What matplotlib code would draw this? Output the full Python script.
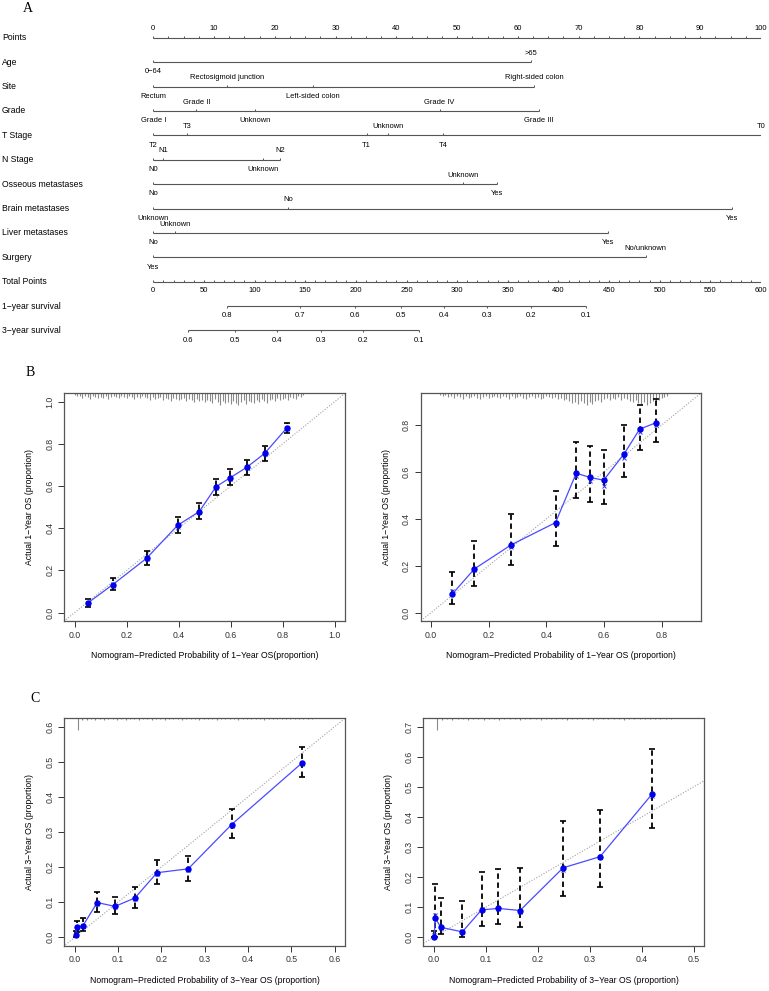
import matplotlib
matplotlib.use('Agg')
import matplotlib.pyplot as plt

plt.rcParams['font.family'] = ['Liberation Sans', 'DejaVu Sans']

W, H = 769, 991

# ---- panel A: nomogram (points scale 0-100) ----
row_names = ['Points', 'Age', 'Site', 'Grade', 'T Stage', 'N Stage',
             'Osseous metastases', 'Brain metastases', 'Liver metastases',
             'Surgery', 'Total Points', '1\u2212year survival', '3\u2212year survival']

age_levels = ['0\u221264', '>65']
age_pts = [0, 62.2]
age_pos = ['b', 'a']
site_levels = ['Rectum', 'Rectosigmoid junction', 'Left-sided colon', 'Right-sided colon']
site_pts = [0, 12.2, 26.3, 62.7]
site_pos = ['b', 'a', 'b', 'a']
grade_levels = ['Grade I', 'Grade II', 'Unknown', 'Grade IV', 'Grade III']
grade_pts = [0, 7.1, 16.8, 47.1, 63.5]
grade_pos = ['b', 'a', 'b', 'a', 'b']
t_levels = ['T2', 'T3', 'T1', 'Unknown', 'T4', 'T0']
t_pts = [0, 5.5, 35.1, 38.7, 47.7, 100]
t_pos = ['b', 'a', 'b', 'a', 'b', 'a']
n_levels = ['N0', 'N1', 'Unknown', 'N2']
n_pts = [0, 1.6, 18.1, 20.8]
n_pos = ['b', 'a', 'b', 'a']
bone_levels = ['No', 'Unknown', 'Yes']
bone_pts = [0, 51.0, 56.6]
bone_pos = ['b', 'a', 'b']
brain_levels = ['Unknown', 'No', 'Yes']
brain_pts = [0, 22.2, 95.3]
brain_pos = ['b', 'a', 'b']
liver_levels = ['No', 'Unknown', 'Yes']
liver_pts = [0, 3.5, 74.9]
liver_pos = ['b', 'a', 'b']
surg_levels = ['Yes', 'No/unknown']
surg_pts = [0, 81.0]
surg_pos = ['b', 'a']

surv1_prob = ['0.8', '0.7', '0.6', '0.5', '0.4', '0.3', '0.2', '0.1']
surv1_total = [73, 145, 199, 245, 287, 329, 373, 427]
surv3_prob = ['0.6', '0.5', '0.4', '0.3', '0.2', '0.1']
surv3_total = [34, 81, 122, 166, 207, 262]

# ---- panels B / C: calibration ----
b1_pred = [0.051, 0.147, 0.277, 0.396, 0.479, 0.544, 0.599, 0.662, 0.731, 0.817]
b1_obs = [0.046, 0.133, 0.258, 0.414, 0.479, 0.597, 0.640, 0.689, 0.755, 0.877]
b1_lo = [0.028, 0.106, 0.226, 0.376, 0.442, 0.558, 0.605, 0.652, 0.720, 0.853]
b1_hi = [0.063, 0.163, 0.294, 0.455, 0.521, 0.634, 0.679, 0.724, 0.790, 0.900]
b1_corr = [0.044, 0.128, 0.255, 0.408, 0.475, 0.590, 0.634, 0.684, 0.750, 0.870]
b1_rug = [2, 3, 3, 5, 3, 4, 6, 3, 4, 5,
          4, 5, 3, 6, 4, 3, 4, 5, 3, 4,
          5, 3, 4, 6, 4, 5, 3, 4, 5, 7,
          4, 6, 5, 4, 7, 5, 6, 8, 5, 6,
          7, 6, 5, 8, 6, 7, 9, 6, 8, 7,
          9, 7, 8, 10, 6, 9, 12, 8, 10, 9,
          11, 8, 10, 12, 9, 7, 11, 8, 9, 10,
          7, 9, 6, 8, 10, 7, 6, 8, 5, 7,
          6, 5, 7, 4, 5, 6, 3, 4, 2]

b2_pred = [0.073, 0.150, 0.278, 0.432, 0.504, 0.551, 0.599, 0.671, 0.724, 0.782]
b2_obs = [0.078, 0.186, 0.289, 0.384, 0.595, 0.577, 0.565, 0.679, 0.783, 0.811]
b2_lo = [0.036, 0.114, 0.204, 0.285, 0.488, 0.470, 0.463, 0.578, 0.692, 0.726]
b2_hi = [0.175, 0.307, 0.421, 0.517, 0.726, 0.712, 0.692, 0.800, 0.887, 0.911]
b2_corr = [0.090, 0.180, 0.282, 0.380, 0.585, 0.562, 0.540, 0.659, 0.769, 0.800]
b2_rug = [2, 3, 2, 4, 3, 5, 3, 4, 6, 3,
          5, 4, 3, 5, 6, 4, 3, 5, 4, 3,
          4, 5, 3, 4, 6, 3, 5, 4, 3, 5,
          6, 4, 3, 5, 4, 6, 5, 3, 4, 5,
          4, 6, 5, 7, 6, 8, 10, 9, 11, 8,
          10, 12, 9, 11, 8, 7, 9, 6, 5, 7,
          5, 6, 4, 7, 5, 6, 8, 9, 7, 10,
          11, 9, 12, 10, 8, 9, 7, 5, 4, 3]

c1_pred = [0.002, 0.005, 0.019, 0.052, 0.093, 0.139, 0.190, 0.262, 0.362, 0.524]
c1_obs = [0.007, 0.028, 0.033, 0.099, 0.088, 0.112, 0.184, 0.195, 0.321, 0.496]
c1_lo = [0.000, 0.016, 0.019, 0.073, 0.066, 0.084, 0.152, 0.161, 0.282, 0.456]
c1_hi = [0.019, 0.047, 0.054, 0.128, 0.116, 0.144, 0.220, 0.232, 0.365, 0.541]
c1_corr = [0.006, 0.026, 0.031, 0.096, 0.086, 0.110, 0.181, 0.193, 0.318, 0.493]
c1_rug = [12, 2, 2, 1, 2, 1, 2, 1, 1, 2,
          1, 2, 1, 1, 2, 1, 1, 2, 1, 1,
          2, 1, 1, 1, 2, 1, 1, 1, 2, 1,
          1, 1, 2, 1, 1, 1, 1, 2, 1, 1,
          1, 1, 1, 2, 1, 1, 1, 1, 1, 1,
          1, 1, 1, 1, 1]

c2_pred = [0.001, 0.003, 0.014, 0.055, 0.092, 0.124, 0.166, 0.249, 0.320, 0.420]
c2_obs = [0.001, 0.063, 0.033, 0.018, 0.091, 0.096, 0.089, 0.231, 0.268, 0.476]
c2_lo = [0.000, 0.000, 0.010, 0.002, 0.038, 0.043, 0.035, 0.138, 0.168, 0.362]
c2_hi = [0.020, 0.177, 0.130, 0.121, 0.218, 0.227, 0.231, 0.387, 0.423, 0.625]
c2_corr = [0.008, 0.073, 0.030, 0.020, 0.094, 0.095, 0.085, 0.225, 0.268, 0.470]
c2_rug = [12, 2, 1, 2, 1, 1, 2, 1, 1, 2,
          1, 1, 2, 1, 1, 1, 2, 1, 1, 1,
          2, 1, 1, 1, 1, 2, 1, 1, 1, 1,
          2, 1, 1, 1, 1, 1, 2, 1, 1, 1,
          1, 1, 1, 1, 1, 1]


def rect(l, t, r, b):
    return [l / W, 1 - b / H, (r - l) / W, (b - t) / H]


fig = plt.figure(figsize=(W / 100, H / 100), dpi=100)
line_col = '#555555'

# ---------------- nomogram ----------------
ax = fig.add_axes(rect(153.3, 13.3, 761, 354.9))
ax.set_xlim(0, 100)
ax.set_ylim(13, -1)
ax.axis('off')

for k, name in enumerate(row_names):
    ax.text(-24.9, k, name, ha='left', va='center', fontsize=6.2, clip_on=False)

# points scale
ax.hlines(0, 0, 100, color=line_col, lw=0.8)
for v in range(0, 101, 10):
    ax.vlines(v, 0, -0.09, color=line_col, lw=0.8)
    ax.text(v, -0.36, str(v), ha='center', va='center', fontsize=5.5)
for v in [x * 2.5 for x in range(41)]:
    if v % 10 != 0:
        ax.vlines(v, 0, -0.06, color=line_col, lw=0.7)

variables = [
    (age_levels, age_pts, age_pos),
    (site_levels, site_pts, site_pos),
    (grade_levels, grade_pts, grade_pos),
    (t_levels, t_pts, t_pos),
    (n_levels, n_pts, n_pos),
    (bone_levels, bone_pts, bone_pos),
    (brain_levels, brain_pts, brain_pos),
    (liver_levels, liver_pts, liver_pos),
    (surg_levels, surg_pts, surg_pos),
]
for k, (levels, pts, pos) in enumerate(variables, start=1):
    ax.hlines(k, min(pts), max(pts), color=line_col, lw=0.8)
    for lab, p, where in zip(levels, pts, pos):
        ax.vlines(p, k, k - 0.08, color=line_col, lw=0.7)
        dy = -0.36 if where == 'a' else 0.40
        ax.text(p, k + dy, lab, ha='center', va='center', fontsize=5.4)

# total points scale (0-600 -> 0-100)
tp = 10
ax.hlines(tp, 0, 100, color=line_col, lw=0.8)
for v in range(0, 601, 10):
    x = v * 100 / 600
    if v % 50 == 0:
        ax.vlines(x, tp, tp - 0.09, color=line_col, lw=0.8)
        ax.text(x, tp + 0.37, str(v), ha='center', va='center', fontsize=5.5)
    else:
        ax.vlines(x, tp, tp - 0.06, color=line_col, lw=0.7)

for k, probs, totals in [(11, surv1_prob, surv1_total), (12, surv3_prob, surv3_total)]:
    xs = [t * 100 / 600 for t in totals]
    ax.hlines(k, min(xs), max(xs), color=line_col, lw=0.8)
    for lab, x in zip(probs, xs):
        ax.vlines(x, k, k + 0.08, color=line_col, lw=0.7)
        ax.text(x, k + 0.40, lab, ha='center', va='center', fontsize=5.5)


# ---------------- calibration panels ----------------
def calib(box, xlim, ylim, xt, yt, pred, obs, lo, hi, corr, rug, rug_x0, xlabel, ylabel):
    a = fig.add_axes(rect(*box))
    xpad = 0.04 * xlim
    ypad = 0.04 * ylim
    a.set_xlim(-xpad, xlim + xpad)
    a.set_ylim(-ypad, ylim + ypad)
    a.plot([-1, 2], [-1, 2], linestyle=(0, (1, 1.5)), color='#a0a0a0', lw=0.8)
    # spike histogram of predictions along the top
    top = ylim + ypad
    px = (ylim + 2 * ypad) / (box[3] - box[1])
    rx = [rug_x0 + 0.01 * i for i in range(len(rug))]
    a.vlines(rx, [top - h * px for h in rug], top, color='#8a8a8a', lw=0.8)
    # error bars
    a.vlines(pred, lo, hi, colors='k', linestyles=(0, (3, 2)), lw=1.3)
    a.plot(pred, hi, linestyle='none', marker='_', color='k', ms=4, mew=1.2)
    a.plot(pred, lo, linestyle='none', marker='_', color='k', ms=4, mew=1.2)
    a.plot(pred, obs, '-', color='#4a4aff', lw=0.9)
    a.plot(pred, corr, linestyle='none', marker='x', color='#3030ff', ms=3, mew=0.7)
    a.plot(pred, obs, linestyle='none', marker='o', color='#0000ee', ms=3.6)
    a.set_xticks(xt)
    a.set_yticks(yt)
    a.set_xticklabels(['%.1f' % t for t in xt])
    a.set_yticklabels(['%.1f' % t for t in yt], rotation=90, va='center')
    a.tick_params(direction='out', length=4, width=0.7, labelsize=6.3, colors='#333333', pad=3)
    for s in a.spines.values():
        s.set_color('#555555')
        s.set_linewidth(0.9)
    a.set_xlabel(xlabel, fontsize=6.2, labelpad=8)
    a.set_ylabel(ylabel, fontsize=6.2, labelpad=8)
    return a


t10 = [0.0, 0.2, 0.4, 0.6, 0.8, 1.0]
t08 = [0.0, 0.2, 0.4, 0.6, 0.8]
t06 = [0.0, 0.1, 0.2, 0.3, 0.4, 0.5, 0.6]
t07 = [0.0, 0.1, 0.2, 0.3, 0.4, 0.5, 0.6, 0.7]
t05 = [0.0, 0.1, 0.2, 0.3, 0.4, 0.5]

calib((64.3, 393.3, 345, 621), 1.0, 1.0, t10, t10,
      b1_pred, b1_obs, b1_lo, b1_hi, b1_corr, b1_rug, 0.0,
      'Nomogram\u2212Predicted Probability of 1\u2212Year OS(proportion)',
      'Actual 1\u2212Year OS (proportion)')
calib((420.7, 393.3, 700.7, 621), 0.9, 0.9, t08, t08,
      b2_pred, b2_obs, b2_lo, b2_hi, b2_corr, b2_rug, 0.03,
      'Nomogram\u2212Predicted Probability of 1\u2212Year OS (proportion)',
      'Actual 1\u2212Year OS (proportion)')
calib((64.3, 718.3, 345, 945.7), 0.6, 0.6, t06, t06,
      c1_pred, c1_obs, c1_lo, c1_hi, c1_corr, c1_rug, 0.008,
      'Nomogram\u2212Predicted Probability of 3\u2212Year OS (proportion)',
      'Actual 3\u2212Year OS (proportion)')
calib((423.3, 718.3, 704, 945.7), 0.5, 0.7, t05, t07,
      c2_pred, c2_obs, c2_lo, c2_hi, c2_corr, c2_rug, 0.006,
      'Nomogram\u2212Predicted Probability of 3\u2212Year OS (proportion)',
      'Actual 3\u2212Year OS (proportion)')

for lab, x, y in [('A', 28, 9), ('B', 30, 372), ('C', 35, 698)]:
    fig.text(x / W, 1 - y / H, lab, fontsize=10, family='Liberation Serif',
             ha='center', va='center')

fig.savefig('out.png', dpi=100)
